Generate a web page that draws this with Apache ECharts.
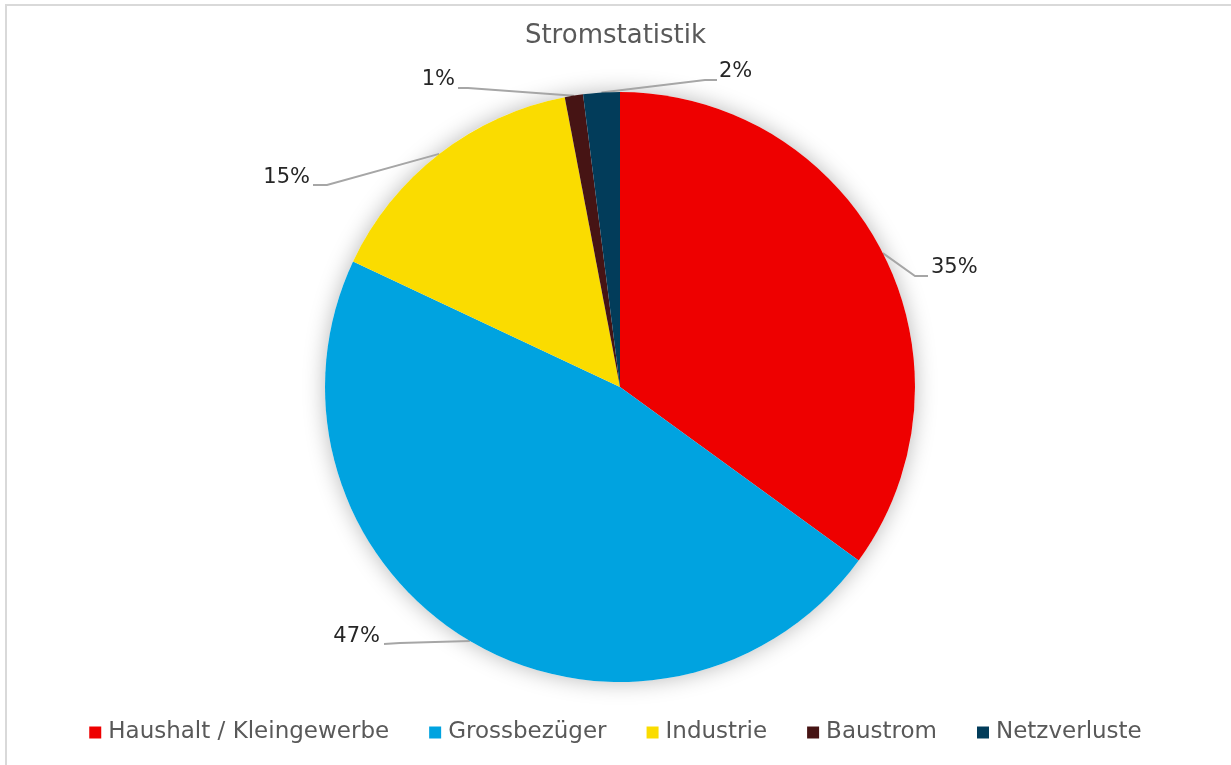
<!DOCTYPE html>
<html>
<head>
<meta charset="utf-8">
<script src="https://cdn.jsdelivr.net/npm/echarts@6/dist/echarts.min.js"></script>
<style>
    html, body {margin:0; padding:0; background:#fff; overflow:hidden; width:1231px; height:765px;}
    #frame {position:absolute; left:5px; top:4px; right:-40px; bottom:-40px; border-top:2px solid #d9d9d9; border-left:2px solid #d9d9d9;}
    #chart {position:absolute; left:0; top:0; width:1231px; height:765px;}
</style>
</head>
<body>
<div id="frame"></div>
<div id="chart"></div>
<script>
// Daten
var categories = ['Haushalt / Kleingewerbe', 'Grossbezüger', 'Industrie', 'Baustrom', 'Netzverluste'];
var values = [35, 47, 15, 1, 2];
var colors = ['#ee0000', '#00a3e0', '#fadc00', '#461414', '#023c5a'];

// Position der Beschriftungen (wie Excel)
var labelPos = [
    {x: 931, y: 268, align: 'left', elbow: [915, 276], end: [928, 276]},
    {x: 380, y: 637, align: 'right', elbow: [400, 643], end: [384, 644]},
    {x: 310, y: 178, align: 'right', elbow: [327, 185], end: [313, 185]},
    {x: 455, y: 80, align: 'right', elbow: [468, 88], end: [458, 88]},
    {x: 719, y: 72, align: 'left', elbow: [705, 80], end: [717, 80]}
];

var font = 'DejaVu Sans';
var myChart = echarts.init(document.getElementById('chart'));
var pieData = categories.map(function (name, i) {
    return {name: name, value: values[i], itemStyle: {color: colors[i]}};
});
var option = {
    backgroundColor: 'transparent',
    animation: false,
    title: {
        text: 'Stromstatistik',
        left: 'center',
        top: 18,
        textStyle: {fontFamily: font, fontSize: 26, fontWeight: 'normal', color: '#595959'}
    },
    legend: {
        data: categories,
        bottom: 16,
        left: 'center',
        icon: 'rect',
        itemWidth: 12,
        itemHeight: 12,
        itemGap: 40,
        textStyle: {fontFamily: font, fontSize: 23, color: '#595959', padding: [0, 0, 0, 2]}
    },
    series: [
        {
            // Schatten hinter dem Kuchen
            type: 'pie',
            silent: true,
            center: [620, 387],
            radius: 295,
            label: {show: false},
            labelLine: {show: false},
            data: [{value: 1, name: '', itemStyle: {color: '#fff', shadowBlur: 22, shadowColor: 'rgba(0,0,0,0.28)'}}],
            z: 1
        },
        {
            name: 'Stromstatistik',
            type: 'pie',
            center: [620, 387],
            radius: 295,
            startAngle: 90,
            clockwise: true,
            data: pieData,
            z: 2,
            label: {
                show: true,
                formatter: '{c}%',
                fontFamily: font,
                fontSize: 21,
                color: '#262626'
            },
            labelLine: {
                show: true,
                lineStyle: {color: '#a6a6a6', width: 2}
            },
            labelLayout: function (params) {
                var p = labelPos[params.dataIndex];
                var pts = params.labelLinePoints;
                return {
                    x: p.x,
                    y: p.y,
                    align: p.align,
                    verticalAlign: 'middle',
                    labelLinePoints: [pts[0], p.elbow, p.end]
                };
            }
        }
    ]
};
myChart.setOption(option);
</script>
</body>
</html>
